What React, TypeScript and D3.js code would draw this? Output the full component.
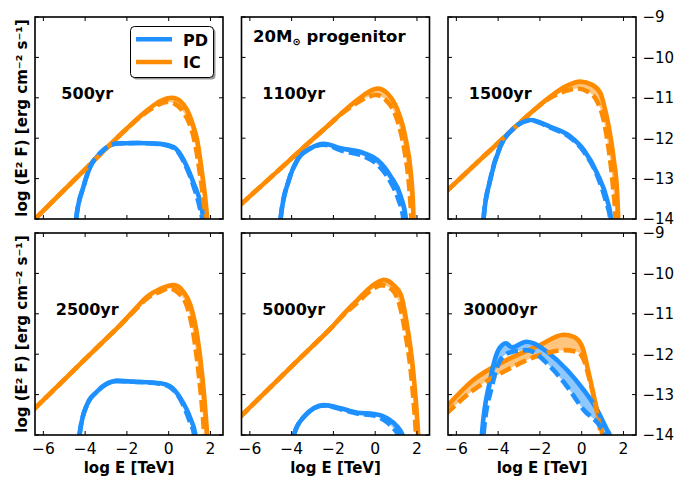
import React from 'react';
import * as d3 from 'd3';

type P = [number, number];

const X_TICKS = [-6, -4, -2, 0, 2];
const Y_TICKS = [-9, -10, -11, -12, -13, -14];
const X_DOMAIN: [number, number] = [-6.4, 2.6];
const Y_DOMAIN: [number, number] = [-14, -9];
const AGES = ['500yr', '1100yr', '1500yr', '2500yr', '5000yr', '30000yr'];

const IC_SOLID: P[][] = [
  [[-6.5, -14.05], [-5, -13.28], [-4, -12.77], [-3, -12.26], [-2, -11.76], [-1, -11.3], [-0.4, -11.08], [0.16, -11.0], [0.55, -11.08], [0.88, -11.3], [1.15, -11.65], [1.36, -12.04], [1.6, -12.87], [1.76, -13.53], [1.84, -14], [1.88, -14.4]],
  [[-6.5, -13.67], [-5, -12.97], [-4, -12.5], [-3, -12.03], [-2.13, -11.63], [-1.5, -11.33], [-0.85, -11.05], [-0.3, -10.85], [0.11, -10.77], [0.6, -10.9], [1.07, -11.3], [1.3, -11.65], [1.47, -12.04], [1.71, -12.87], [1.8, -13.5], [1.84, -14], [1.87, -14.4]],
  [[-6.5, -13.33], [-5, -12.6], [-4, -12.12], [-3.26, -11.76], [-2.5, -11.4], [-1.5, -10.97], [-0.7, -10.7], [-0.06, -10.6], [0.5, -10.68], [0.9, -10.89], [1.1, -11.25], [1.3, -11.72], [1.54, -12.54], [1.7, -13.36], [1.75, -14], [1.78, -14.4]],
  [[-6.5, -13.39], [-5, -12.63], [-4, -12.12], [-3, -11.62], [-2.32, -11.28], [-1.6, -10.88], [-1.04, -10.58], [-0.4, -10.38], [0.24, -10.29], [0.7, -10.45], [1.04, -10.78], [1.36, -11.52], [1.6, -12.51], [1.76, -13.42], [1.84, -14], [1.88, -14.4]],
  [[-6.5, -13.57], [-5, -12.81], [-4, -12.3], [-3, -11.8], [-2.13, -11.36], [-1.5, -11.0], [-0.85, -10.66], [-0.2, -10.33], [0.43, -10.16], [0.9, -10.3], [1.23, -10.53], [1.55, -11.36], [1.79, -12.27], [1.95, -13.18], [2.06, -14], [2.1, -14.4]],
  [[-6.5, -13.32], [-5.19, -12.64], [-3.58, -12.14], [-1.98, -11.77], [-0.86, -11.52], [-0.38, -11.57], [0.02, -11.81], [0.34, -12.47], [0.66, -13.22], [0.98, -13.96], [1.1, -14.3]],
];

const IC_DASHED: P[][] = [
  [[-6.5, -14.05], [-5, -13.28], [-4, -12.77], [-3, -12.26], [-2, -11.76], [-1, -11.33], [-0.5, -11.17], [-0.08, -11.1], [0.3, -11.15], [0.7, -11.35], [1.0, -11.65], [1.25, -12.1], [1.5, -12.9], [1.66, -13.55], [1.74, -14], [1.78, -14.4]],
  [[-6.5, -13.67], [-5, -12.97], [-4, -12.5], [-3, -12.03], [-2.13, -11.63], [-1.5, -11.35], [-0.85, -11.12], [-0.3, -10.97], [0.03, -10.93], [0.5, -11.05], [0.95, -11.4], [1.2, -11.8], [1.4, -12.3], [1.58, -12.95], [1.68, -13.55], [1.73, -14], [1.76, -14.4]],
  [[-6.5, -13.33], [-5, -12.6], [-4, -12.12], [-3.26, -11.76], [-2.5, -11.4], [-1.5, -11.0], [-0.7, -10.82], [-0.22, -10.77], [0.3, -10.85], [0.75, -11.1], [1.05, -11.55], [1.3, -12.3], [1.5, -13.2], [1.62, -14], [1.65, -14.4]],
  [[-6.5, -13.39], [-5, -12.63], [-4, -12.12], [-3, -11.62], [-2.32, -11.28], [-1.6, -10.9], [-1.04, -10.62], [-0.4, -10.45], [0.0, -10.37], [0.5, -10.5], [0.9, -10.85], [1.2, -11.55], [1.45, -12.55], [1.62, -13.45], [1.7, -14], [1.74, -14.4]],
  [[-6.5, -13.57], [-5, -12.81], [-4, -12.3], [-3, -11.8], [-2.13, -11.36], [-1.5, -11.02], [-0.85, -10.72], [-0.2, -10.42], [0.3, -10.29], [0.8, -10.4], [1.15, -10.75], [1.45, -11.5], [1.7, -12.4], [1.85, -13.25], [1.95, -14], [1.98, -14.4]],
  [[-6.5, -13.48], [-5.19, -12.89], [-3.58, -12.39], [-1.98, -12.02], [-0.86, -11.9], [-0.22, -11.94], [0.1, -12.14], [0.42, -12.72], [0.74, -13.46], [0.92, -14], [1.0, -14.3]],
];

const PD_SOLID: P[][] = [
  [[-4.5, -14.4], [-4.43, -14], [-4.08, -13.2], [-3.76, -12.71], [-3.28, -12.37], [-2.48, -12.13], [-1.5, -12.12], [-0.4, -12.14], [0.24, -12.22], [0.72, -12.54], [1.2, -13.12], [1.52, -13.61], [1.65, -14], [1.7, -14.4]],
  [[-4.6, -14.4], [-4.53, -14], [-4.13, -13.03], [-3.73, -12.54], [-3.09, -12.25], [-2.45, -12.14], [-1.65, -12.25], [-0.53, -12.37], [0.11, -12.54], [0.75, -12.95], [1.23, -13.45], [1.47, -14], [1.52, -14.4]],
  [[-4.75, -14.4], [-4.7, -14], [-4.38, -13.03], [-3.9, -12.21], [-3.26, -11.76], [-2.46, -11.55], [-1.5, -11.72], [-0.54, -11.96], [0.1, -12.29], [0.74, -12.87], [1.22, -13.53], [1.41, -14], [1.45, -14.4]],
  [[-4.35, -14.4], [-4.27, -14], [-3.92, -13.26], [-3.44, -12.93], [-2.48, -12.66], [-1.68, -12.68], [-0.4, -12.72], [0.08, -12.8], [0.56, -13.09], [1.04, -13.59], [1.28, -14], [1.33, -14.4]],
  [[-3.95, -14.4], [-3.89, -14], [-3.41, -13.55], [-2.45, -13.26], [-1.65, -13.34], [-0.85, -13.45], [-0.05, -13.48], [0.59, -13.59], [1.07, -13.8], [1.31, -14], [1.38, -14.4]],
  [[-4.82, -14.4], [-4.78, -14], [-4.38, -12.64], [-3.99, -11.9], [-3.62, -11.73], [-3.34, -11.83], [-2.65, -11.69], [-2.3, -11.73], [-1.66, -11.94], [-0.7, -12.39], [0.1, -12.89], [0.74, -13.38], [1.22, -13.88], [1.34, -14], [1.4, -14.2]],
];

const PD_DASHED: P[][] = [
  [[-4.5, -14.4], [-4.43, -14], [-4.08, -13.2], [-3.76, -12.71], [-3.28, -12.37], [-2.48, -12.13], [-1.5, -12.12], [-0.4, -12.15], [0.24, -12.24], [0.72, -12.58], [1.2, -13.2], [1.48, -13.7], [1.6, -14], [1.65, -14.4]],
  [[-4.6, -14.4], [-4.53, -14], [-4.13, -13.03], [-3.73, -12.54], [-3.09, -12.25], [-2.45, -12.16], [-1.65, -12.3], [-0.53, -12.45], [0.11, -12.65], [0.7, -13.05], [1.1, -13.5], [1.35, -14], [1.4, -14.4]],
  [[-4.75, -14.4], [-4.7, -14], [-4.38, -13.03], [-3.9, -12.21], [-3.26, -11.76], [-2.46, -11.56], [-1.5, -11.74], [-0.54, -11.99], [0.1, -12.33], [0.74, -12.92], [1.18, -13.6], [1.37, -14], [1.41, -14.4]],
  [[-4.35, -14.4], [-4.27, -14], [-3.92, -13.26], [-3.44, -12.93], [-2.48, -12.66], [-1.68, -12.68], [-0.4, -12.73], [0.08, -12.82], [0.56, -13.12], [1.0, -13.65], [1.22, -14], [1.27, -14.4]],
  [[-3.95, -14.4], [-3.89, -14], [-3.41, -13.55], [-2.45, -13.27], [-1.65, -13.36], [-0.85, -13.47], [-0.05, -13.52], [0.5, -13.66], [0.9, -13.85], [1.1, -14], [1.15, -14.4]],
  [[-4.75, -14.4], [-4.7, -14], [-4.3, -12.8], [-3.9, -12.15], [-3.4, -11.95], [-2.62, -11.9], [-1.5, -12.31], [-0.7, -12.8], [0.1, -13.38], [0.9, -13.79], [1.14, -14], [1.2, -14.2]],
];

const BLUE = '#1E90FF';
const ORANGE = '#FF8C00';
const LIGHT_BLUE = '#8fc7ff';
const LIGHT_ORANGE = '#ffc57f';
const FONT = 'DejaVu Sans';

const PANEL_LEFTS = [35, 241.5, 448];
const PANEL_TOPS = [17, 233];
const PW = 188;
const PH = 202;

function Panel({ idx }: { idx: number }) {
  const col = idx % 3;
  const row = Math.floor(idx / 3);
  const left = PANEL_LEFTS[col];
  const top = PANEL_TOPS[row];
  const x = d3.scaleLinear().domain(X_DOMAIN).range([left, left + PW]);
  const y = d3.scaleLinear().domain(Y_DOMAIN).range([top + PH, top]);
  const line = d3.line<P>().x(d => x(d[0])).y(d => y(d[1])).curve(d3.curveMonotoneX);
  const band = (a: P[], b: P[]) => {
    const p1 = line(a) || '';
    const p2 = line([...b].reverse()) || '';
    return p1 + 'L' + p2.slice(1) + 'Z';
  };
  const clipId = `clip${idx}`;
  const sw = 4.6;
  return (
    <g>
      <defs>
        <clipPath id={clipId}>
          <rect x={left} y={top} width={PW} height={PH} />
        </clipPath>
      </defs>
      <g clipPath={`url(#${clipId})`}>
        <path d={band(IC_SOLID[idx], IC_DASHED[idx])} fill={LIGHT_ORANGE} stroke="none" />
        <path d={band(PD_SOLID[idx], PD_DASHED[idx])} fill={LIGHT_BLUE} stroke="none" />
        <path d={line(IC_SOLID[idx]) || ''} fill="none" stroke={ORANGE} strokeWidth={sw} />
        <path d={line(PD_SOLID[idx]) || ''} fill="none" stroke={BLUE} strokeWidth={sw} />
        <path d={line(IC_DASHED[idx]) || ''} fill="none" stroke={ORANGE} strokeWidth={sw} strokeDasharray="12,5" />
        <path d={line(PD_DASHED[idx]) || ''} fill="none" stroke={BLUE} strokeWidth={sw} strokeDasharray="12,5" />
      </g>
      {X_TICKS.map(t => (
        <g key={'xt' + t}>
          <line x1={x(t)} x2={x(t)} y1={top + PH} y2={top + PH - 4} stroke="#000" strokeWidth={1} />
          <line x1={x(t)} x2={x(t)} y1={top} y2={top + 4} stroke="#000" strokeWidth={1} />
        </g>
      ))}
      {Y_TICKS.map(t => (
        <g key={'yt' + t}>
          <line x1={left} x2={left + 4} y1={y(t)} y2={y(t)} stroke="#000" strokeWidth={1} />
          <line x1={left + PW} x2={left + PW - 4} y1={y(t)} y2={y(t)} stroke="#000" strokeWidth={1} />
        </g>
      ))}
      <rect x={left} y={top} width={PW} height={PH} fill="none" stroke="#000" strokeWidth={1.6} />
      <text x={x(-3.9)} y={y(-11.03)} textAnchor="middle" fontFamily={FONT} fontWeight="bold" fontSize={16}>{AGES[idx]}</text>
      {row === 1 && X_TICKS.map(t => (
        <text key={'xl' + t} x={x(t)} y={top + PH + 19} textAnchor="middle" fontFamily={FONT} fontSize={15.5}>{t < 0 ? '\u2212' + Math.abs(t) : String(t)}</text>
      ))}
      {row === 1 && (
        <text x={left + PW / 2} y={473} textAnchor="middle" fontFamily={FONT} fontWeight="bold" fontSize={15}>log E [TeV]</text>
      )}
      {col === 2 && Y_TICKS.map(t => (
        <text key={'yl' + t} x={left + PW + 6.5} y={y(t) + 5.4} textAnchor="start" fontFamily={FONT} fontSize={15}>{'\u2212' + Math.abs(t)}</text>
      ))}
      {col === 0 && (
        <text transform={`translate(26.5,${top + PH / 2}) rotate(-90)`} textAnchor="middle" fontFamily={FONT} fontWeight="bold" fontSize={15}>log (E² F) [erg cm⁻² s⁻¹]</text>
      )}
      {idx === 0 && (
        <g>
          <rect x={132.5} y={28.5} width={83} height={51} rx={4} fill="#999" />
          <rect x={130.5} y={26.5} width={83} height={51} rx={4} fill="#fff" stroke="#000" strokeWidth={1} />
          <line x1={136} x2={172} y1={39.3} y2={39.3} stroke={BLUE} strokeWidth={sw} />
          <line x1={136} x2={172} y1={62} y2={62} stroke={ORANGE} strokeWidth={sw} />
          <text x={183} y={45.5} fontFamily={FONT} fontWeight="bold" fontSize={16}>PD</text>
          <text x={183} y={68} fontFamily={FONT} fontWeight="bold" fontSize={16}>IC</text>
        </g>
      )}
      {idx === 1 && (
        <text x={253} y={42} fontFamily={FONT} fontWeight="bold" fontSize={16.5}>
          20M<tspan fontSize={10} dy={3}>⊙</tspan><tspan dy={-3}> progenitor</tspan>
        </text>
      )}
    </g>
  );
}

export default function App() {
  return (
    <svg width={691} height={479} style={{ position: 'absolute', left: 0, top: 0, background: '#fff' }}>
      <rect x={0} y={0} width={691} height={479} fill="#fff" />
      {[0, 1, 2, 3, 4, 5].map(i => <Panel key={i} idx={i} />)}
    </svg>
  );
}
